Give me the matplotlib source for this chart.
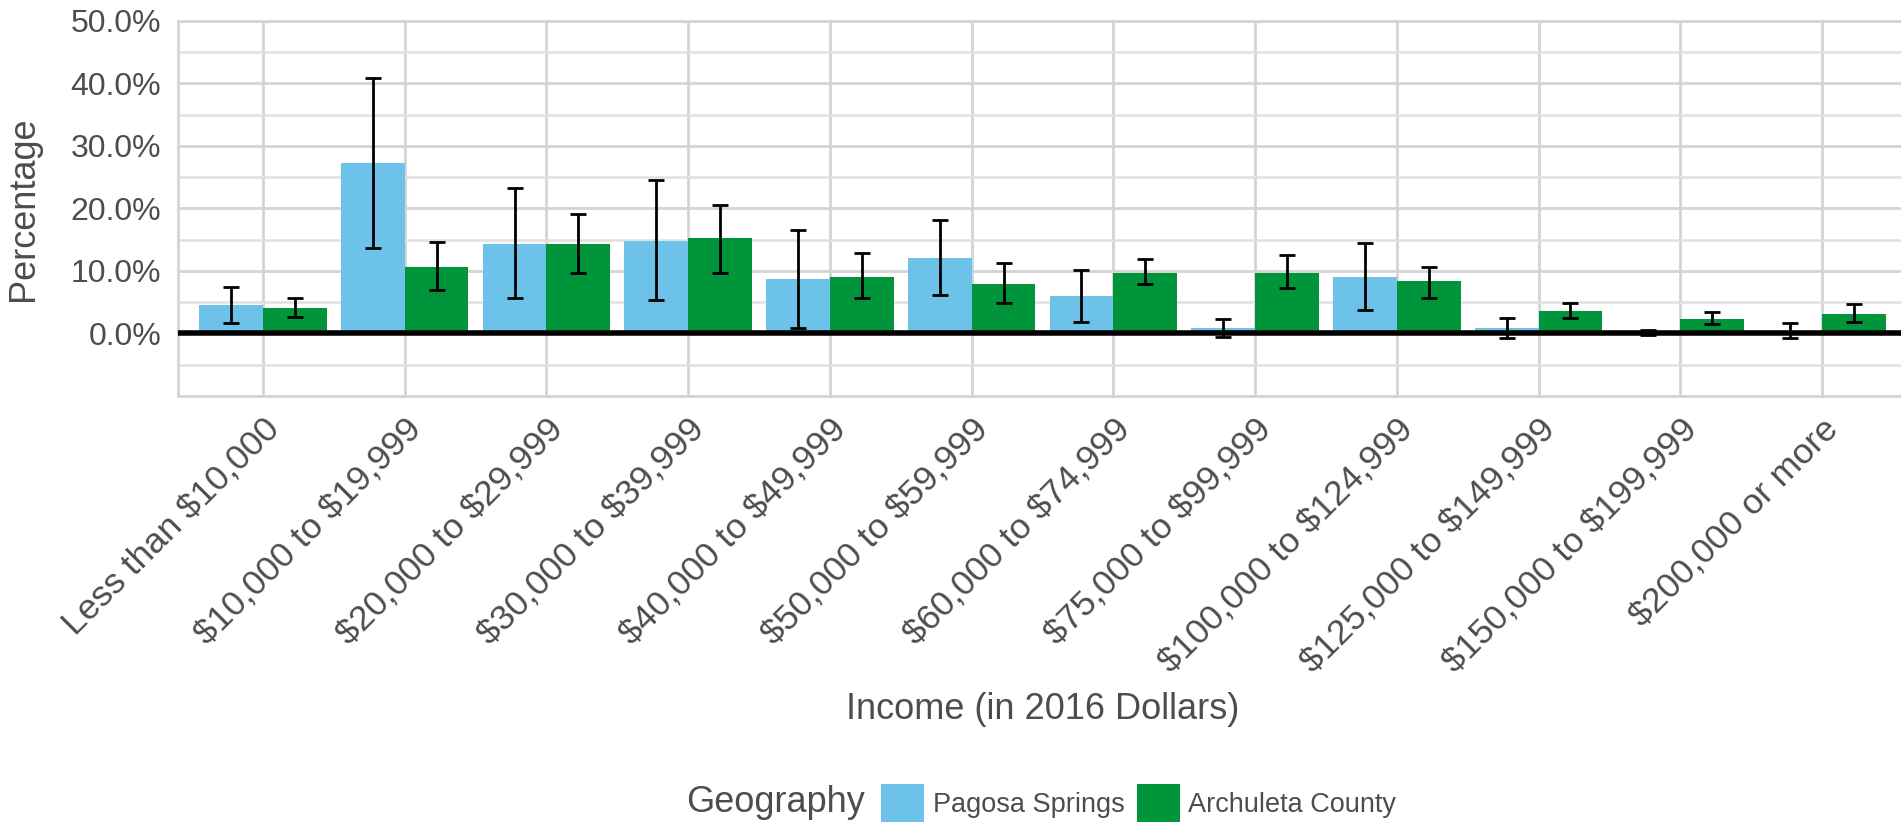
import matplotlib
matplotlib.use("Agg")
import matplotlib.pyplot as plt
import numpy as np
from matplotlib.ticker import PercentFormatter, FixedLocator
from matplotlib.patches import Patch

plt.rcParams['font.family'] = ['Liberation Sans', 'DejaVu Sans']
plt.rcParams['text.parse_math'] = False   # keep the $ signs literal

# ---- data (percent) ----
categories = ["Less than $10,000", "$10,000 to $19,999", "$20,000 to $29,999",
              "$30,000 to $39,999", "$40,000 to $49,999", "$50,000 to $59,999",
              "$60,000 to $74,999", "$75,000 to $99,999", "$100,000 to $124,999",
              "$125,000 to $149,999", "$150,000 to $199,999", "$200,000 or more"]

pagosa = [4.5, 27.3, 14.3, 14.8, 8.7, 12.0, 6.0, 0.8, 9.1, 0.85, 0.0, 0.0]
pagosa_lo = [1.65, 13.7, 5.6, 5.3, 0.8, 6.2, 1.9, -0.6, 3.8, -0.7, -0.3, -0.7]
pagosa_hi = [7.5, 40.8, 23.2, 24.5, 16.5, 18.1, 10.1, 2.3, 14.4, 2.4, 0.5, 1.6]

archuleta = [4.0, 10.6, 14.3, 15.2, 9.1, 7.9, 9.6, 9.6, 8.4, 3.6, 2.3, 3.1]
archuleta_lo = [2.7, 6.9, 9.7, 9.7, 5.7, 4.8, 7.9, 7.3, 5.7, 2.4, 1.5, 1.9]
archuleta_hi = [5.7, 14.7, 19.1, 20.6, 12.8, 11.2, 11.9, 12.5, 10.6, 4.9, 3.5, 4.7]

series_names = ["Pagosa Springs", "Archuleta County"]
y_major = [0, 10, 20, 30, 40, 50]
y_minor = [-10, -5, 5, 15, 25, 35, 45]

blue = "#6cc2e8"
green = "#00953a"
txt = "#4d4d4d"

fig = plt.figure(figsize=(19.01, 8.26), dpi=100)
ax = fig.add_axes([0.0936, 0.5206, 1.0032 - 0.0936, 0.9746 - 0.5206])

x = np.arange(len(categories))
w = 0.45

def errs(v, lo, hi):
    v = np.array(v); lo = np.array(lo); hi = np.array(hi)
    return np.vstack([v - lo, hi - v])

ax.bar(x - w/2, pagosa, width=w, color=blue, zorder=2)
ax.bar(x + w/2, archuleta, width=w, color=green, zorder=2)
ax.errorbar(x - w/2, pagosa, yerr=errs(pagosa, pagosa_lo, pagosa_hi), fmt='none',
            ecolor='black', elinewidth=2, capsize=5.5, capthick=2, zorder=4)
ax.errorbar(x + w/2, archuleta, yerr=errs(archuleta, archuleta_lo, archuleta_hi), fmt='none',
            ecolor='black', elinewidth=2, capsize=5.5, capthick=2, zorder=4)
ax.axhline(0, color='black', lw=4, zorder=3)

ax.set_xlim(-0.6, len(categories) - 0.4)
ax.set_ylim(-10, 50)
ax.yaxis.set_major_locator(FixedLocator(y_major))
ax.yaxis.set_minor_locator(FixedLocator(y_minor))
ax.yaxis.set_major_formatter(PercentFormatter(decimals=1))

ax.grid(True, which='major', axis='both', color='#d4d4d4', lw=2, zorder=0)
ax.grid(True, which='minor', axis='y', color='#e0e0e0', lw=1.8, zorder=0)
ax.set_axisbelow(True)
for s in ax.spines.values():
    s.set_color('#d4d4d4')
    s.set_linewidth(2)

ax.set_xticks(x)
ax.set_xticklabels(categories, rotation=45, ha='right', va='top',
                   rotation_mode='anchor', fontsize=25.5, color=txt)
ax.tick_params(axis='y', length=0, labelsize=23, colors=txt, pad=12)
ax.tick_params(axis='x', length=0, colors=txt, pad=12)
ax.tick_params(which='minor', length=0)

ax.set_ylabel("Percentage", fontsize=26, color=txt)
ax.yaxis.set_label_coords(-0.079, 0.5)
ax.set_xlabel("Income (in 2016 Dollars)", fontsize=26, color=txt, labelpad=9)

# legend at bottom
fig.text(0.455, 1 - 803/826, "Geography", fontsize=26, color=txt, ha='right', va='center')
handles = [Patch(facecolor=blue), Patch(facecolor=green)]
leg = fig.legend(handles, series_names, loc='center left', bbox_to_anchor=(0.4635, 1 - 803/826),
                 ncol=2, frameon=False, fontsize=19.5, handlelength=1.6, handleheight=1.75,
                 handletextpad=0.3, columnspacing=0.45, borderpad=0, borderaxespad=0)
for t in leg.get_texts():
    t.set_color(txt)

fig.savefig("out.png", dpi=100)
